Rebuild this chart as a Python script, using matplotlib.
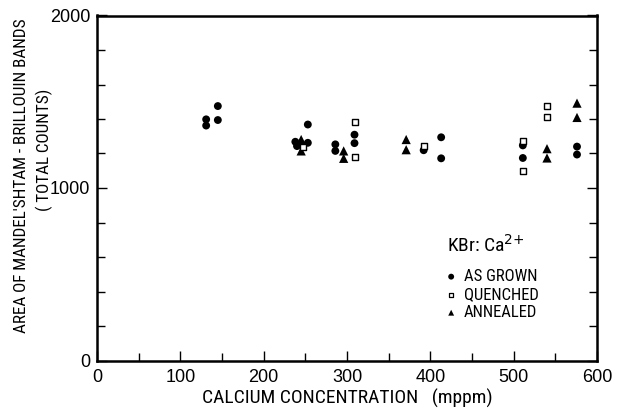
import matplotlib
matplotlib.use("Agg")
import matplotlib.pyplot as plt
from matplotlib.ticker import MultipleLocator
from matplotlib import font_manager

# ---- data ----
grown_x = [131, 131, 145, 145, 238, 240, 253, 253, 286, 286, 309, 309, 392, 413, 413, 511, 511, 576, 576]
grown_y = [1398, 1362, 1475, 1394, 1268, 1243, 1262, 1368, 1253, 1215, 1309, 1260, 1219, 1294, 1172, 1247, 1174, 1240, 1194]

quenched_x = [247, 310, 310, 392, 511, 511, 540, 540]
quenched_y = [1238, 1385, 1180, 1243, 1272, 1098, 1474, 1413]

annealed_x = [245, 245, 296, 296, 371, 371, 540, 540, 576, 576]
annealed_y = [1281, 1215, 1215, 1172, 1281, 1222, 1228, 1174, 1492, 1409]

legend_labels = ["AS GROWN", "QUENCHED", "ANNEALED"]
x_label = "CALCIUM CONCENTRATION   (mppm)"
y_label_1 = "AREA OF MANDEL'SHTAM - BRILLOUIN BANDS"
y_label_2 = "( TOTAL COUNTS)"

entries = font_manager.fontManager.ttflist
narrow_fam = None
for cand in ["Liberation Sans Narrow", "DejaVu Sans Condensed", "Roboto Condensed", "Open Sans Condensed"]:
    if any(f.name == cand for f in entries):
        narrow_fam = cand
        break
if narrow_fam is None and any(f.name == "DejaVu Sans" and f.stretch == "condensed" for f in entries):
    narrow_fam = "DejaVu Sans"
if narrow_fam is None:
    narrow_fam = "DejaVu Sans"
lab_kw = dict(family=[narrow_fam, "DejaVu Sans"], fontstretch='condensed')

plt.rcParams['font.family'] = ["Liberation Sans", "DejaVu Sans"]

W, H = 632, 408
fig = plt.figure(figsize=(W / 100, H / 100), dpi=100)
ax = fig.add_axes([97/W, 1 - 360.5/H, 500/W, (360.5 - 15.5)/H])

ax.scatter(grown_x, grown_y, marker='o', s=32, c='black', edgecolors='none', zorder=3)
ax.scatter(quenched_x, quenched_y, marker='s', s=14, facecolors='white', edgecolors='black', linewidths=1.0, zorder=4)
ax.scatter(annealed_x, annealed_y, marker='^', s=44, c='black', edgecolors='none', zorder=3)

ax.set_xlim(0, 600)
ax.set_ylim(0, 2000)
ax.xaxis.set_major_locator(MultipleLocator(100))
ax.xaxis.set_minor_locator(MultipleLocator(50))
ax.yaxis.set_major_locator(MultipleLocator(1000))
ax.yaxis.set_minor_locator(MultipleLocator(200))
ax.tick_params(which='both', direction='in', right=True, top=False, width=1.0, labelsize=13)
ax.tick_params(which='major', length=7)
ax.tick_params(which='minor', length=6)
ax.tick_params(axis='x', pad=6)
ax.tick_params(axis='y', pad=5)
for sp in ax.spines.values():
    sp.set_linewidth(1.8)

ax.set_xlabel(x_label, fontsize=14, labelpad=2, **lab_kw)
fig.text(22/W, 1 - 176/H, y_label_1, rotation=90, ha='center', va='center', fontsize=12.3, **lab_kw)
fig.text(44/W, 1 - 150/H, y_label_2, rotation=90, ha='center', va='center', fontsize=12.3, **lab_kw)

# legend block
ax.text(420, 671, r"KBr: Ca$^{2{+}}$", fontsize=14, va='center', ha='left', **lab_kw)
leg_y = [486, 381, 277]
ax.scatter([425], [leg_y[0]], marker='o', s=18, c='black', edgecolors='none')
ax.scatter([425], [leg_y[1]], marker='s', s=9, facecolors='white', edgecolors='black', linewidths=0.9)
ax.scatter([425], [leg_y[2]], marker='^', s=18, c='black', edgecolors='none')
for yy, lab in zip(leg_y, legend_labels):
    ax.text(440, yy, lab, fontsize=12, va='center', ha='left', **lab_kw)

fig.savefig("out.png", dpi=100)
